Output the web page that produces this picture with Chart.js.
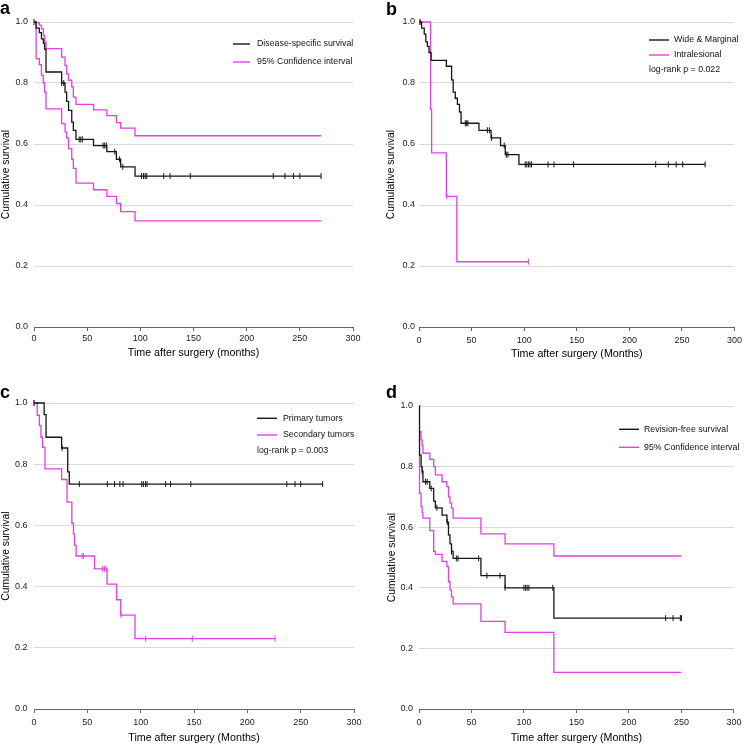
<!DOCTYPE html>
<html>
<head>
<meta charset="utf-8">
<script src="https://cdn.jsdelivr.net/npm/chart.js@4.4.1/dist/chart.umd.min.js"></script>
<style>
  body { margin: 0; background: #fff; }
  #wrap { position: relative; width: 746px; height: 744px; overflow: hidden; }
  canvas { position: absolute; }
</style>
</head>
<body>
<div id="wrap">
  <canvas id="chartA" width="373" height="372" style="left:0;top:0"></canvas>
  <canvas id="chartB" width="373" height="372" style="left:373px;top:0"></canvas>
  <canvas id="chartC" width="373" height="372" style="left:0;top:372px"></canvas>
  <canvas id="chartD" width="373" height="372" style="left:373px;top:372px"></canvas>
</div>
<script>
const xTicks = [0, 50, 100, 150, 200, 250, 300]
const yTicks = [0, 0.2, 0.4, 0.6, 0.8, 1.0]

// a: disease-specific survival with 95% CI
const aTime  = [0, 2, 5, 7, 8.8, 10, 11.3, 26, 29.2, 30.7, 32.5, 35.5, 37, 39.5, 56, 68.5, 77.5, 81.5, 95, 270]
const aSurv  = [1, 0.98, 0.965, 0.945, 0.93, 0.91, 0.836, 0.80, 0.77, 0.74, 0.71, 0.672, 0.645, 0.615, 0.595, 0.575, 0.55, 0.525, 0.495, 0.495]
const aUpper = [1, 0.998, 0.99, 0.978, 0.956, 0.935, 0.913, 0.885, 0.858, 0.83, 0.809, 0.787, 0.754, 0.73, 0.712, 0.693, 0.67, 0.652, 0.627, 0.627]
const aLower = [1, 0.88, 0.86, 0.825, 0.80, 0.77, 0.715, 0.667, 0.64, 0.62, 0.585, 0.55, 0.52, 0.472, 0.45, 0.428, 0.405, 0.378, 0.348, 0.348]
const aCens  = [0, 26, 28, 42.5, 44, 45.5, 65, 66.5, 68, 76, 80.5, 83.5, 101, 103, 104.5, 106, 122, 128, 147, 225, 236, 244, 250, 270]
const aLegend = ['Disease-specific survival', '95% Confidence interval']

// b: wide & marginal vs intralesional
const bWideTime = [0, 2.5, 5, 6.5, 8, 9.5, 11.5, 26, 31, 32.5, 34.5, 36.5, 38.5, 40, 57, 68.5, 77.5, 82, 95, 272]
const bWideSurv = [1, 0.98, 0.96, 0.935, 0.92, 0.90, 0.874, 0.855, 0.81, 0.77, 0.75, 0.73, 0.705, 0.668, 0.645, 0.62, 0.595, 0.565, 0.533, 0.533]
const bWideCens = [1, 44, 45.3, 46.5, 65, 67, 69, 81, 83, 84.5, 101, 102.5, 104, 105.5, 107, 122.7, 128.3, 147, 225, 237, 244.5, 250.7, 272]
const bIntraTime = [0, 11, 12, 26, 36, 104]
const bIntraSurv = [1, 0.714, 0.571, 0.4286, 0.214, 0.214]
const bIntraCens = [1, 26.5, 104]
const bLegend = ['Wide & Marginal', 'Intralesional']
const bNote = 'log-rank p = 0.022'

// c: primary vs secondary tumors
const cPrimTime = [0, 9.5, 11.3, 25.9, 31.6, 33.1, 270.6]
const cPrimSurv = [1, 0.962, 0.888, 0.853, 0.775, 0.735, 0.735]
const cPrimCens = [0, 26.3, 42.5, 68.75, 75.5, 80.5, 83.5, 101, 102.5, 104.5, 106, 123.4, 128, 147, 237, 244.7, 250, 270.6]
const cSecTime = [0, 3, 5, 6.5, 8, 10.3, 25.9, 31, 35.5, 37, 38, 39.5, 56.8, 68.5, 77.5, 81.3, 94.7, 226]
const cSecSurv = [1, 0.96, 0.926, 0.888, 0.855, 0.785, 0.75, 0.676, 0.607, 0.572, 0.535, 0.50, 0.458, 0.408, 0.357, 0.307, 0.23, 0.23]
const cSecCens = [0, 45, 46.5, 64.4, 66, 67.7, 81.6, 104.7, 148.4, 226]
const cLegend = ['Primary tumors', 'Secondary tumors']
const cNote = 'log-rank p = 0.003'

// d: revision-free survival with 95% CI
const dTime  = [0, 0.5, 2, 3, 3.75, 10.3, 14, 15.6, 22, 26.6, 28.1, 29.5, 31, 32.5, 59, 82, 128.5, 250]
const dSurv  = [1, 0.838, 0.80, 0.785, 0.75, 0.728, 0.686, 0.664, 0.64, 0.617, 0.575, 0.545, 0.52, 0.497, 0.44, 0.40, 0.30, 0.30]
const dUpper = [0.915, 0.915, 0.888, 0.87, 0.844, 0.824, 0.80, 0.773, 0.75, 0.734, 0.70, 0.68, 0.663, 0.63, 0.578, 0.545, 0.505, 0.505]
const dLower = [0.84, 0.712, 0.668, 0.648, 0.63, 0.589, 0.52, 0.51, 0.487, 0.47, 0.42, 0.393, 0.37, 0.347, 0.289, 0.253, 0.121, 0.121]
const dCens  = [0.5, 3, 6.2, 7.8, 11.6, 17, 27, 31, 35.6, 37.2, 56.8, 64.7, 77.2, 82, 100, 101.6, 103, 104.7, 127.5, 235, 242, 249, 250]
const dLegend = ['Revision-free survival', '95% Confidence interval']

const BLACK = '#161616'
const PINK = '#e23fe4'
const FONT = '"Liberation Sans", Arial, Helvetica, sans-serif'
Chart.defaults.font.family = FONT

function steps(times, values) {
  return times.map((t, i) => ({x: t, y: values[i]}))
}

// value of a step curve at time t (after any drop at t)
function stepAt(times, values, t) {
  let v = values[0]
  for (let i = 0; i < times.length; i++) {
    if (times[i] <= t) v = values[i]
  }
  return v
}

function censored(cens, times, values) {
  return cens.map(t => ({x: t, y: stepAt(times, values, t)}))
}

const panelText = {
  id: 'panelText',
  afterDraw(chart, args, o) {
    const ctx = chart.ctx
    ctx.save()
    ctx.fillStyle = '#000'
    ctx.font = 'bold 18px ' + FONT
    ctx.textBaseline = 'alphabetic'
    ctx.textAlign = 'left'
    ctx.fillText(o.letter, o.letterX, o.letterY)
    ctx.font = '8.8px ' + FONT
    ctx.textBaseline = 'middle'
    o.labels.forEach((lab, i) => {
      const y = o.rows[i]
      ctx.strokeStyle = o.colors[i]
      ctx.lineWidth = 1.4
      ctx.beginPath()
      ctx.moveTo(o.legendX, y)
      ctx.lineTo(o.legendX + o.lineLen, y)
      ctx.stroke()
      ctx.fillStyle = '#111'
      ctx.fillText(lab, o.textX, y)
    })
    if (o.note) ctx.fillText(o.note, o.noteX, o.noteY)
    ctx.restore()
  }
}

function buildPanel(id, p) {
  const H = 372, W = 373
  const datasets = []
  p.lines.forEach(l => datasets.push({
    data: steps(l.t, l.y),
    borderColor: l.color,
    borderWidth: 1.3,
    pointRadius: 0,
    pointHoverRadius: 0,
    stepped: true,
    fill: false,
    clip: false
  }))
  p.cens.forEach(c => datasets.push({
    data: censored(c.t, c.lineT, c.lineY),
    showLine: false,
    pointStyle: 'line',
    pointRotation: 90,
    pointRadius: 3,
    pointHoverRadius: 3,
    pointBorderColor: c.color,
    pointBorderWidth: 1,
    clip: false
  }))

  new Chart(document.getElementById(id), {
    type: 'line',
    data: { datasets },
    plugins: [panelText],
    options: {
      responsive: false,
      animation: false,
      events: [],
      layout: { padding: { left: 0, top: p.area.top, right: W - p.area.right, bottom: 0 } },
      plugins: {
        legend: { display: false },
        tooltip: { enabled: false },
        panelText: p.text
      },
      scales: {
        x: {
          type: 'linear',
          min: 0,
          max: 300,
          afterBuildTicks: s => { s.ticks = xTicks.map(v => ({value: v})) },
          afterFit: s => { s.height = H - p.area.bottom },
          ticks: { font: { size: 9 }, color: '#222', padding: p.xTickPad, maxRotation: 0 },
          grid: { drawOnChartArea: false, drawTicks: true, tickLength: 4, color: '#666' },
          border: { display: true, color: '#666', width: 1 },
          title: { display: true, text: p.xTitle, color: '#000', font: { size: 10.7 }, padding: { top: 0, bottom: p.xTitlePad } }
        },
        y: {
          min: 0,
          max: 1,
          afterBuildTicks: s => { s.ticks = yTicks.map(v => ({value: v})) },
          afterFit: s => { s.width = p.area.left },
          ticks: { font: { size: 9 }, color: '#222', padding: p.yTickPad, callback: v => v.toFixed(1) },
          grid: { drawTicks: false, color: ctx => ctx.tick && ctx.tick.value === 0 ? 'rgba(0,0,0,0)' : '#d9d9d9' },
          border: { display: false },
          title: { display: true, text: 'Cumulative survival', color: '#000', font: { size: 10.3 }, padding: { top: p.yTitlePad, bottom: 0 } }
        }
      }
    }
  })
}

buildPanel('chartA', {
  area: { left: 34, right: 353, top: 22, bottom: 327 },
  xTitle: 'Time after surgery (months)', xTitlePad: 12.9, xTickPad: 2.6, yTickPad: 6, yTitlePad: 0,
  lines: [
    { t: aTime, y: aSurv, color: BLACK },
    { t: aTime, y: aUpper, color: PINK },
    { t: aTime, y: aLower, color: PINK }
  ],
  cens: [ { t: aCens, lineT: aTime, lineY: aSurv, color: BLACK } ],
  text: { letter: 'a', letterX: 0, letterY: 14, legendX: 233, lineLen: 17, textX: 257, rows: [44, 62], labels: aLegend, colors: [BLACK, PINK] }
})

buildPanel('chartB', {
  area: { left: 46, right: 366, top: 22, bottom: 327 },
  xTitle: 'Time after surgery (Months)', xTitlePad: 11.3, xTickPad: 3.9, yTickPad: 4, yTitlePad: 11.7,
  lines: [
    { t: bWideTime, y: bWideSurv, color: BLACK },
    { t: bIntraTime, y: bIntraSurv, color: PINK }
  ],
  cens: [
    { t: bWideCens, lineT: bWideTime, lineY: bWideSurv, color: BLACK },
    { t: bIntraCens, lineT: bIntraTime, lineY: bIntraSurv, color: PINK }
  ],
  text: { letter: 'b', letterX: 13, letterY: 15, legendX: 276, lineLen: 20, textX: 301, rows: [40, 55], labels: bLegend, colors: [BLACK, PINK], note: bNote, noteX: 276, noteY: 70 }
})

buildPanel('chartC', {
  area: { left: 34, right: 354, top: 31, bottom: 337 },
  xTitle: 'Time after surgery (Months)', xTitlePad: 0, xTickPad: 4.6, yTickPad: 6.5, yTitlePad: 0,
  lines: [
    { t: cPrimTime, y: cPrimSurv, color: BLACK },
    { t: cSecTime, y: cSecSurv, color: PINK }
  ],
  cens: [
    { t: cPrimCens, lineT: cPrimTime, lineY: cPrimSurv, color: BLACK },
    { t: cSecCens, lineT: cSecTime, lineY: cSecSurv, color: PINK }
  ],
  text: { letter: 'c', letterX: 0, letterY: 26, legendX: 257, lineLen: 20, textX: 283, rows: [46.3, 63], labels: cLegend, colors: [BLACK, PINK], note: cNote, noteX: 257, noteY: 78.7 }
})

buildPanel('chartD', {
  area: { left: 46, right: 366, top: 34, bottom: 337 },
  xTitle: 'Time after surgery (Months)', xTitlePad: 0, xTickPad: 4.6, yTickPad: 6, yTitlePad: 12.8,
  lines: [
    { t: dTime, y: dSurv, color: BLACK },
    { t: dTime, y: dUpper, color: PINK },
    { t: dTime, y: dLower, color: PINK }
  ],
  cens: [ { t: dCens, lineT: dTime, lineY: dSurv, color: BLACK } ],
  text: { letter: 'd', letterX: 13, letterY: 26, legendX: 246, lineLen: 20, textX: 271, rows: [57.3, 75.3], labels: dLegend, colors: [BLACK, PINK] }
})
</script>
</body>
</html>
